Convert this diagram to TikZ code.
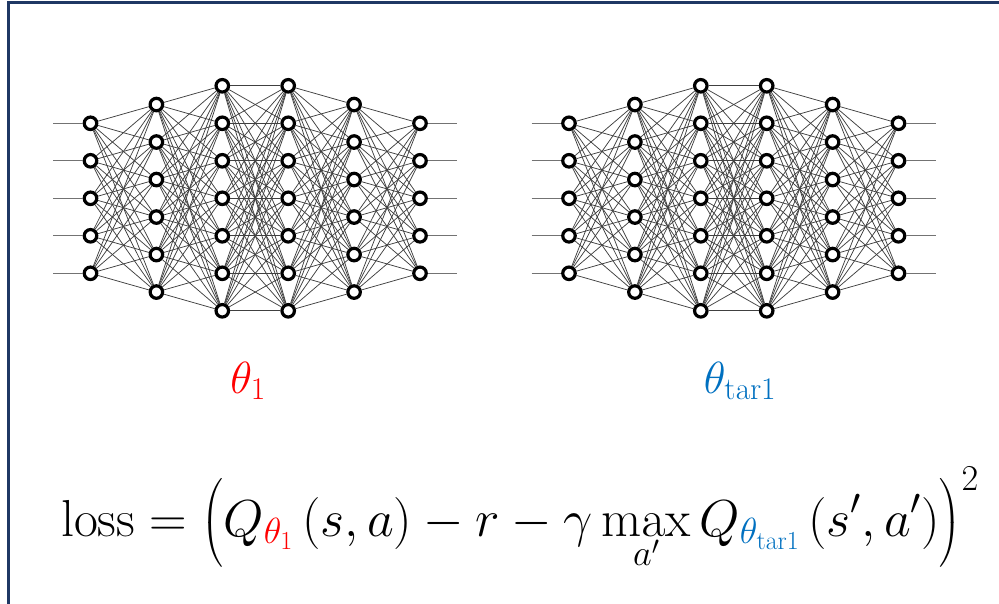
\RequirePackage{fix-cm}
\documentclass[tikz,border=0pt]{standalone}
\usepackage{amsmath}
\definecolor{framenavy}{HTML}{1F3864}
\definecolor{tarblue}{HTML}{0070C0}
\begin{document}
\begin{tikzpicture}[x=1pt,y=-1pt,
  neuron/.style={circle,draw=black,line width=3.2pt,fill=white,minimum size=12.5pt,inner sep=0pt},
  wire/.style={draw=black!75,line width=0.75pt},
  iowire/.style={draw=black!55,line width=0.8pt},
  lab/.style={font=\fontsize{45}{54}\selectfont,inner sep=0pt}]
\useasboundingbox (0,0) rectangle (999,604);
\draw[framenavy,line width=3pt] (8,604) -- (8,3) -- (999,3);
\foreach \net/\ox in {A/0,B/478.5}{
  \foreach \l/\n in {1/5,2/6,3/7,4/7,5/6,6/5}{
    \foreach \i in {1,...,\n}{
      \node[neuron] (\net-\l-\i) at ({\ox+90.5+(\l-1)*65.9},{198.3+(\i-(\n+1)/2)*37.5}) {};
    }
  }
  \foreach \l/\n/\m in {1/5/6,2/6/7,3/7/7,4/7/6,5/6/5}{
    \pgfmathtruncatemacro\lp{\l+1}
    \foreach \a in {1,...,\n}{
      \foreach \b in {1,...,\m}{
        \draw[wire] (\net-\l-\a) -- (\net-\lp-\b);
      }
    }
  }
  \foreach \i in {1,...,5}{
    \coordinate (\net-in-\i) at ({\ox+53},{198.3+(\i-3)*37.5});
    \coordinate (\net-out-\i) at ({\ox+457},{198.3+(\i-3)*37.5});
    \draw[iowire] (\net-in-\i) -- (\net-1-\i);
    \draw[iowire] (\net-6-\i) -- (\net-out-\i);
  }
}
\node[lab,text=red,anchor=base] (th1) at (248,393) {$\theta_1$};
\node[lab,text=tarblue,anchor=base] (thtar) at (740,393) {$\theta_{\mathrm{tar1}}$};
\node[font=\fontsize{52}{62}\selectfont,anchor=base,inner sep=0pt] (loss) at (520,536)
  {$\displaystyle \mathrm{loss}=\Bigl(Q_{\textcolor{red}{\theta_1}}\,(s,a)-r-\gamma\max_{a'}Q_{\textcolor{tarblue}{\theta_{\mathrm{tar1}}}}\,(s',a')\Bigr)^{2}$};
\end{tikzpicture}
\end{document}
